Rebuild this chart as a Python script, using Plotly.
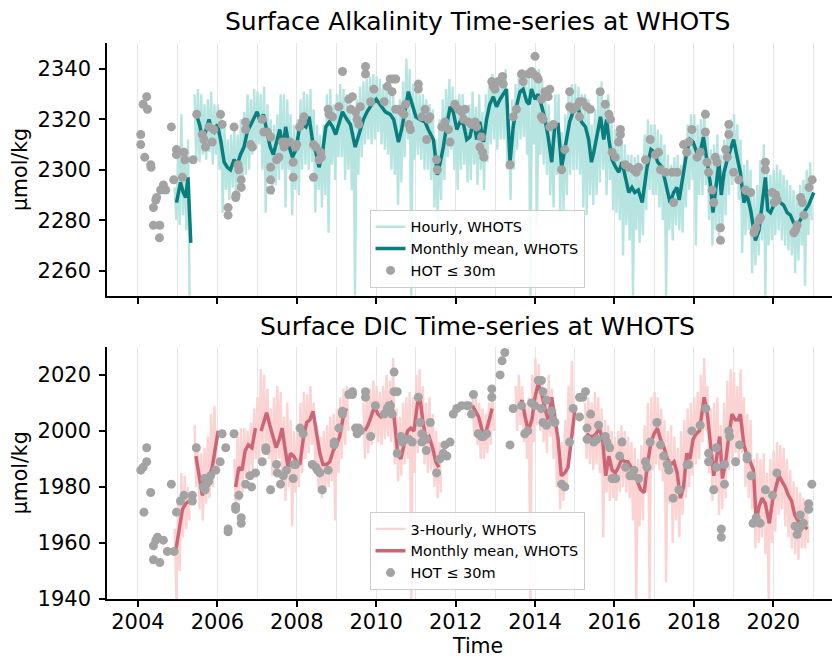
import plotly.graph_objects as go

# ---------------- Alkalinity (top panel) ----------------
# Hourly WHOTS alkalinity: monthly upper / lower extent of the hourly record,
# months from Dec 2004 to Jan 2021 (None = no data)
hourly_start = 2004 + 11 / 12
alk_hourly_hi = [
    2293,
    2306, 2322, 2306, 2312, None, 2330, 2332, 2330, 2326, 2328, 2331, 2326,
    2326, 2322, 2318, 2312, 2314, 2316, 2314, 2320, 2323, 2330, 2328, 2332,
    2331, 2330, 2333, 2326, 2320, 2318, 2322, 2330, 2330, 2328, 2322, 2318,
    2320, 2328, 2331, 2330, 2332, 2324, 2318, 2314, 2318, 2330, 2332, 2326,
    2330, 2334, 2332, 2330, 2326, 2322, 2328, 2333, 2335, 2336, 2337, 2338,
    2337, 2336, 2334, 2333, 2330, 2330, 2324, 2328, 2335, 2344, 2340, 2334,
    2332, 2330, 2330, 2328, 2326, 2324, 2312, 2320, 2328, 2332, 2336, 2333,
    2328, 2330, 2330, 2325, 2326, 2331, 2325, 2330, 2323, 2330, 2335, 2338,
    2335, 2337, 2338, 2340, 2320, 2328, 2334, 2338, 2340, 2336, 2337, 2340,
    2338, 2340, 2336, 2331, 2326, 2316, 2330, 2330, 2315, 2322, 2330, 2334,
    2334, 2333, 2330, 2330, 2328, 2318, 2324, 2332, 2335, 2326, 2330, 2318,
    2316, 2314, 2316, 2310, 2306, 2306, 2305, 2306, 2302, 2314, 2320, 2318,
    2318, 2316, 2314, 2310, 2306, 2302, 2305, 2306, 2302, 2312, 2318, 2322,
    2322, 2318, 2320, 2324, 2316, 2308, 2310, 2314, 2306, 2312, 2318, 2320,
    2322, 2318, 2312, 2302, 2304, 2300, 2290, 2294, 2304, 2310, 2300, 2298,
    2300, 2302, 2300, 2298, 2296, 2294, 2292, 2290, 2294, 2296, 2300, 2303,
    None,
]
alk_hourly_lo = [
    2280,
    2278, 2282, 2276, 2250, None, 2304, 2303, 2306, 2304, 2307, 2302, 2306,
    2300, 2283, 2292, 2288, 2293, 2290, 2292, 2295, 2298, 2300, 2306, 2308,
    2310, 2300, 2283, 2296, 2290, 2294, 2296, 2300, 2285, 2300, 2282, 2292,
    2290, 2300, 2302, 2300, 2303, 2283, 2292, 2285, 2290, 2275, 2302, 2296,
    2305, 2305, 2296, 2300, 2292, 2250, 2298, 2305, 2310, 2312, 2310, 2312,
    2315, 2310, 2308, 2306, 2300, 2298, 2286, 2295, 2305, 2312, 2250, 2304,
    2306, 2304, 2300, 2300, 2296, 2285, 2280, 2288, 2296, 2305, 2308, 2300,
    2292, 2300, 2302, 2295, 2296, 2302, 2294, 2300, 2292, 2303, 2310, 2312,
    2308, 2312, 2312, 2300, 2288, 2300, 2308, 2312, 2313, 2306, 2250, 2310,
    2278, 2306, 2302, 2298, 2290, 2285, 2298, 2283, 2284, 2290, 2298, 2300,
    2300, 2298, 2285, 2282, 2290, 2286, 2290, 2295, 2300, 2290, 2296, 2284,
    2283, 2280, 2266, 2278, 2272, 2250, 2276, 2271, 2274, 2284, 2292, 2290,
    2290, 2285, 2280, 2250, 2276, 2272, 2278, 2276, 2275, 2285, 2292, 2296,
    2270, 2290, 2290, 2294, 2280, 2270, 2276, 2272, 2276, 2282, 2290, 2294,
    2296, 2288, 2267, 2274, 2276, 2259, 2262, 2266, 2272, 2250, 2270, 2272,
    2274, 2276, 2272, 2270, 2268, 2266, 2259, 2264, 2270, 2254, 2274, 2280,
    None,
]

# Monthly mean WHOTS alkalinity (None = gap)
alk_mean_t = [
    2004.97, 2005.07, 2005.14, 2005.2, 2005.26, 2005.33, None,
    2005.47, 2005.55, 2005.62, 2005.7, 2005.79, 2005.85, 2005.92, 2006.0,
    2006.08, 2006.17, 2006.25, 2006.33, 2006.42, 2006.5, 2006.58, 2006.67,
    2006.75, 2006.84, 2006.92, 2007.0, 2007.08, 2007.16, 2007.25, 2007.33,
    2007.41, 2007.5, 2007.57, 2007.65, 2007.72, 2007.81, 2007.89, 2007.98,
    2008.06, 2008.14, 2008.23, 2008.31, 2008.4, 2008.48, 2008.56, 2008.65,
    2008.73, 2008.82, 2008.9, 2008.98, 2009.07, 2009.15, 2009.26, 2009.35,
    2009.47, 2009.55, 2009.68, 2009.77, 2009.89, 2010.0, 2010.1, 2010.23,
    2010.35, 2010.44, 2010.56, 2010.64, 2010.81, 2010.9, 2011.0, 2011.1,
    2011.23, 2011.31, 2011.44, 2011.5, 2011.54, 2011.6, 2011.69, 2011.77,
    2011.86, 2011.94, 2012.03, 2012.11, 2012.2, 2012.28, 2012.36, 2012.45,
    2012.53, 2012.61, 2012.7, 2012.78, 2012.86, 2012.95, 2013.03, 2013.12,
    2013.2, 2013.28, 2013.37, 2013.45, 2013.53, 2013.62, 2013.7, 2013.79,
    2013.85, 2013.91, 2014.0, 2014.08, 2014.17, 2014.25, 2014.33, 2014.42,
    2014.5, 2014.58, 2014.67, 2014.75, 2014.87, 2015.0, 2015.08, 2015.17,
    2015.27, 2015.35, 2015.42, 2015.48, 2015.56, 2015.65, 2015.73, 2015.8,
    2015.86, 2015.94, 2016.03, 2016.11, 2016.19, 2016.28, 2016.36, 2016.44,
    2016.51, 2016.6, 2016.7, 2016.82, 2016.92, 2017.0, 2017.09, 2017.2,
    2017.32, 2017.4, 2017.49, 2017.57, 2017.63, 2017.74, 2017.82, 2017.9,
    2017.98, 2018.07, 2018.16, 2018.24, 2018.32, 2018.41, 2018.48, 2018.54,
    2018.63, 2018.69, 2018.76, 2018.84, 2018.92, 2019.0, 2019.09, 2019.17,
    2019.26, 2019.34, 2019.43, 2019.49, 2019.55, 2019.64, 2019.72, 2019.8,
    2019.86, 2019.93, 2020.01, 2020.1, 2020.18, 2020.26, 2020.35, 2020.43,
    2020.51, 2020.6, 2020.68, 2020.77, 2020.89, 2021.02,
]
alk_mean_v = [
    2287, 2295, 2291, 2289, 2297, 2271, None,
    2322, 2318, 2313, 2315, 2320, 2316, 2315, 2318,
    2312, 2303, 2301, 2300, 2304, 2302, 2306, 2309,
    2315, 2318, 2321, 2323, 2319, 2322, 2315, 2309,
    2306, 2312, 2316, 2309, 2317, 2309, 2305, 2308,
    2316, 2318, 2317, 2321, 2311, 2307, 2301, 2307,
    2317, 2319, 2317, 2314, 2319, 2323, 2320, 2318,
    2309, 2313, 2320, 2323, 2326, 2328, 2326, 2323,
    2322, 2320, 2311, 2316, 2331, 2326, 2321, 2320,
    2319, 2316, 2312, 2304, 2298, 2302, 2309, 2317,
    2325, 2323, 2316, 2319, 2318, 2312, 2313, 2320,
    2312, 2319, 2311, 2320, 2326, 2329, 2325, 2328,
    2330, 2332, 2303, 2317, 2325, 2331, 2332, 2327,
    2326, 2332, 2328, 2330, 2325, 2320, 2313, 2303,
    2318, 2318, 2301, 2309, 2319, 2325, 2325, 2319,
    2317, 2312, 2303, 2307, 2313, 2321, 2312, 2320,
    2312, 2304, 2301, 2299, 2303, 2296, 2291, 2293,
    2291, 2292, 2287, 2301, 2308, 2307, 2303, 2301,
    2293, 2287, 2291, 2293, 2288, 2299, 2307, 2312,
    2311, 2307, 2307, 2313, 2304, 2295, 2283, 2292,
    2303, 2290, 2299, 2304, 2308, 2312, 2305, 2299,
    2287, 2290, 2284, 2278, 2272, 2276, 2286, 2297,
    2284, 2283, 2286, 2288, 2287, 2286, 2283, 2282,
    2279, 2278, 2280, 2283, 2286, 2291,
]

# HOT bottle alkalinity, depth <= 30 m
alk_hot_t = [
    2004.07, 2004.07, 2004.13, 2004.22, 2004.24, 2004.17, 2004.32, 2004.33, 2004.39, 2004.45,
    2004.47, 2004.39, 2004.55, 2004.54, 2004.57, 2004.64, 2004.7, 2004.84, 2004.9, 2004.97,
    2004.97, 2005.12, 2005.16, 2005.18, 2005.39, 2005.48, 2005.62, 2005.66, 2005.7, 2005.79,
    2005.87, 2005.91, 2006.08, 2006.12, 2006.27, 2006.27, 2006.42, 2006.46, 2006.47, 2006.52,
    2006.54, 2006.6, 2006.6, 2006.71, 2006.71, 2006.84, 2006.88, 2007.13, 2007.17, 2007.26,
    2007.34, 2007.34, 2007.34, 2007.34, 2007.49, 2007.55, 2007.64, 2007.68, 2007.72, 2007.83,
    2007.91, 2007.91, 2007.97, 2008.0, 2008.07, 2008.14, 2008.18, 2008.42, 2008.48, 2008.42,
    2008.56, 2008.6, 2008.62, 2008.79, 2008.81, 2008.9, 2009.06, 2009.15, 2009.31, 2009.4,
    2009.36, 2009.48, 2009.52, 2009.56, 2009.6, 2009.73, 2009.73, 2009.86, 2009.94, 2010.2,
    2010.28, 2010.35, 2010.42, 2010.49, 2010.4, 2010.49, 2010.58, 2010.64, 2010.7, 2010.74,
    2010.86, 2010.82,
    2011.06, 2011.06, 2011.15, 2011.23, 2011.31, 2011.35, 2011.27, 2011.52, 2011.54, 2011.65,
    2011.73, 2011.82, 2011.86, 2011.98, 2012.07, 2012.15, 2012.24, 2012.2, 2012.32, 2012.4,
    2012.49, 2012.53, 2012.61, 2012.68, 2012.71, 2012.65, 2012.91, 2012.99, 2012.95, 2013.07,
    2013.18, 2013.2, 2013.37, 2013.45, 2013.53, 2013.66, 2013.7, 2013.83, 2013.91, 2013.96,
    2014.0, 2014.04, 2014.08, 2014.16, 2014.25, 2014.37, 2014.33, 2014.16, 2014.2, 2014.46,
    2014.37, 2014.87, 2014.87, 2014.95, 2015.04, 2015.12, 2014.75, 2014.67, 2015.12, 2015.2,
    2015.3, 2015.39, 2015.64, 2015.77, 2015.86, 2015.9, 2016.15, 2016.15, 2016.1, 2015.94,
    2016.02, 2016.27, 2016.36, 2016.48, 2016.61, 2016.55, 2016.78, 2016.9, 2017.03, 2017.11,
    2017.16, 2017.28, 2017.45, 2017.58, 2017.49, 2017.74, 2017.87, 2017.95, 2017.82, 2018.08,
    2018.16, 2018.29, 2018.29, 2018.33, 2018.37, 2018.46, 2018.5, 2018.54, 2018.58, 2018.67,
    2018.67, 2018.8, 2018.88, 2018.88, 2018.84, 2019.0, 2019.13, 2019.3, 2019.43, 2019.51,
    2019.56, 2019.64, 2019.68, 2019.53, 2019.8, 2019.8, 2019.97, 2020.02, 2020.1, 2020.06,
    2020.52, 2020.6, 2020.56, 2020.69, 2020.73, 2020.77, 2020.9, 2020.98,
]
alk_hot_v = [
    2314, 2310, 2326, 2329, 2324, 2305, 2302, 2301, 2285, 2288,
    2289, 2278, 2278, 2273, 2292, 2294, 2292, 2317, 2296, 2308,
    2306, 2297, 2307, 2304, 2304, 2322, 2314, 2312, 2309, 2317,
    2311, 2316, 2322, 2318, 2285, 2282, 2317, 2289, 2290, 2302,
    2300, 2296, 2293, 2319, 2316, 2310, 2309, 2320, 2315, 2315,
    2313, 2301, 2296, 2292, 2304, 2305, 2311, 2309, 2311, 2311,
    2303, 2297, 2309, 2310, 2317, 2319, 2321, 2310, 2309, 2297,
    2304, 2307, 2305, 2324, 2322, 2321, 2325, 2339, 2328, 2329,
    2324, 2323, 2320, 2318, 2325, 2341, 2338, 2327, 2332, 2327,
    2333, 2336, 2336, 2336, 2331, 2324, 2324, 2323, 2322, 2326,
    2316, 2318,
    2334, 2332, 2321, 2324, 2320, 2321, 2312, 2304, 2300, 2317,
    2319, 2316, 2311, 2326, 2324, 2323, 2324, 2320, 2319, 2318,
    2319, 2317, 2309, 2307, 2305, 2313, 2335, 2332, 2333, 2335,
    2337, 2334, 2302, 2321, 2324, 2338, 2335, 2338, 2339, 2338,
    2345, 2337, 2336, 2328, 2331, 2332, 2329, 2321, 2320, 2318,
    2317, 2331, 2325, 2324, 2325, 2321, 2308, 2300, 2327, 2327,
    2325, 2324, 2331, 2326, 2322, 2320, 2316, 2314, 2311, 2307,
    2305, 2302, 2301, 2300, 2301, 2299, 2304, 2312, 2306, 2307,
    2300, 2299, 2299, 2299, 2287, 2310, 2311, 2316, 2307, 2305,
    2307, 2322, 2315, 2303, 2299, 2292, 2287, 2305, 2303, 2277,
    2272, 2308, 2318, 2314, 2305, 2299, 2296, 2292, 2291, 2275,
    2277, 2280, 2281, 2276, 2303, 2300, 2291, 2287, 2288, 2290,
    2275, 2278, 2276, 2289, 2287, 2282, 2293, 2296,
]

# ---------------- DIC (bottom panel) ----------------
dic_hourly_hi = [
    1965,
    1975, 1985, 1984, 1980, None, 2002, 1995, 1992, 1994, 1998, 2006, 2009,
    None, None, None, None, None, 1990, 1998, 2001, 2001, 2000, 2003, 2008,
    2012, 2022, 2020, 2015, 2008, 2012, 2016, 2014, 2005, 2010, 2004, 2000,
    2000, 2010, 2014, 2013, 2016, 2010, 2002, 1998, 2000, 2002, 2005, 2006,
    2008, 2012, 2015, 2016, None, None, None, None, 2010, 2012, 2015, 2018,
    2016, 2014, 2016, 2020, 2018, 2026, 2008, 2005, 2010, 2012, 2014, 2012,
    2020, 2022, 2016, 2010, 2012, 2006, 2000, 1996, None, None, None, None,
    None, None, None, None, None, 2013, 2012, 2010, 2008, 2006, 2010, 2014,
    None, None, None, None, None, None, 2016, 2020, 2016, 2010, 2012, 2020,
    2026, 2024, 2018, 2014, 2020, 2015, 2008, 1998, 1996, 2004, 2016, 2025,
    None, None, None, 2010, 2012, 2010, 2014, 2012, 2008, 2004, 2002, 2000,
    1998, 2000, 2002, 2000, 1998, 1996, 1994, 1990, 1995, 2002, 2010, 2012,
    2014, 2012, 2008, 2004, 2000, 2002, 1998, 1994, 2000, 2004, 2008, 2010,
    2012, 2014, 2020, 2026, 2016, 2008, 2010, 2012, 2002, 2010, 2018, 2022,
    2021, 2016, 2022, 2012, 2006, 2004, 1990, 1992, 1990, 1992, 1985, 1990,
    1993, 1996, 1995, 1994, 1990, 1986, 1982, 1980, 1978, 1976, 1974, None,
    None,
]
dic_hourly_lo = [
    1940,
    1950, 1962, 1965, 1968, None, 1980, 1972, 1968, 1974, 1976, 1980, 1985,
    None, None, None, None, None, 1972, 1975, 1978, 1983, 1985, 1986, 1990,
    1990, 1993, 1995, 1990, 1984, 1988, 1990, 1982, 1975, 1980, 1966, 1978,
    1980, 1985, 1990, 1992, 1995, 1986, 1978, 1976, 1978, 1980, 1982, 1968,
    1985, 1990, 1995, 2000, None, None, None, None, 1990, 1992, 1995, 1998,
    1996, 1995, 1997, 1998, 1996, 1988, 1982, 1984, 1988, 1990, 1940, 1985,
    1992, 1995, 1988, 1985, 1986, 1980, 1976, 1978, None, None, None, None,
    None, None, None, None, None, 1998, 1995, 1990, 1990, 1992, 1995, 2000,
    None, None, None, None, None, None, 2000, 2002, 1996, 1990, 1940, 1996,
    2002, 2000, 1996, 1992, 1998, 1990, 1980, 1972, 1975, 1980, 1990, 1998,
    None, None, None, 1990, 1988, 1986, 1988, 1985, 1962, 1978, 1975, 1976,
    1975, 1978, 1980, 1978, 1976, 1968, 1940, 1966, 1968, 1978, 1940, 1986,
    1988, 1986, 1982, 1946, 1974, 1960, 1968, 1962, 1970, 1976, 1980, 1984,
    1988, 1990, 1996, 2000, 1985, 1975, 1980, 1970, 1972, 1976, 1986, 1990,
    1992, 1990, 1992, 1980, 1976, 1972, 1958, 1960, 1962, 1956, 1940, 1960,
    1964, 1970, 1972, 1966, 1962, 1958, 1956, 1954, 1958, 1958, 1960, None,
    None,
]

dic_mean_t = [
    2004.96, 2005.04, 2005.12, 2005.2, 2005.28, None,
    2005.46, 2005.54, 2005.62, 2005.7, 2005.79, 2005.87, 2005.95, 2006.02, None,
    2006.46, 2006.54, 2006.62, 2006.7, 2006.78, 2006.87, 2006.96, None,
    2007.1, 2007.18, 2007.24, 2007.32, 2007.4, 2007.48, 2007.56, 2007.63, 2007.7,
    2007.78, 2007.84, 2007.92, 2008.0, 2008.08, 2008.17, 2008.25, 2008.33, 2008.41,
    2008.5, 2008.58, 2008.66, 2008.75, 2008.83, 2008.92, 2009.0, 2009.08, 2009.17,
    2009.25, None,
    2009.71, 2009.79, 2009.87, 2009.96, 2010.04, 2010.12, 2010.2, 2010.29, 2010.37,
    2010.45, 2010.54, 2010.62, 2010.7, 2010.79, 2010.87, 2010.95, 2011.04, 2011.1,
    2011.17, 2011.25, 2011.33, 2011.42, 2011.5, 2011.58, None,
    2012.42, 2012.5, 2012.58, 2012.67, 2012.75, 2012.83, 2012.92, None,
    2013.6, 2013.67, 2013.75, 2013.83, 2013.92, 2014.0, 2014.08, 2014.17, 2014.25,
    2014.33, 2014.42, 2014.5, 2014.58, 2014.66, 2014.75, 2014.83, 2014.92, 2015.0, None,
    2015.3, 2015.38, 2015.46, 2015.54, 2015.62, 2015.7, 2015.78, 2015.86, 2015.94,
    2016.02, 2016.1, 2016.18, 2016.26, 2016.34, 2016.42, 2016.5, 2016.58, 2016.66,
    2016.75, 2016.83, 2016.92, 2017.0, 2017.08, 2017.16, 2017.25, 2017.33, 2017.42,
    2017.5, 2017.58, 2017.66, 2017.74, 2017.82, 2017.9, 2017.98, 2018.06, 2018.14,
    2018.22, 2018.26, 2018.34, 2018.42, 2018.5, 2018.58, 2018.65, 2018.72, 2018.8,
    2018.88, 2018.96, 2019.04, 2019.12, 2019.17, 2019.26, 2019.34, 2019.42, 2019.5,
    2019.57, 2019.64, 2019.72, 2019.8, 2019.9, 2019.98, 2020.06, 2020.14, 2020.22,
    2020.3, 2020.38, 2020.46, 2020.54, 2020.62, 2020.7, 2020.78, 2020.86,
]
dic_mean_v = [
    1958, 1966, 1972, 1974, 1975, None,
    1991, 1983, 1977, 1980, 1983, 1987, 1994, 2000, None,
    1980, 1987, 1986, 1993, 1995, 1994, 2001, None,
    2000, 2004, 2006.5, 2002, 1998, 1994, 1997, 2001, 1994,
    1987, 1992, 1991, 1989, 1988, 1998, 2003, 2004, 2007,
    1999, 1992, 1988, 1988, 1989, 1993, 1995, 1998, 2005,
    2008, None,
    2000, 2002, 2005, 2009, 2006, 2005, 2006, 2009, 2010,
    2005, 1992, 1990, 1995, 2000, 2001, 2000, 2010, 2012,
    2004, 1997, 1998, 1994, 1989, 1987, None,
    2009, 2007, 2005, 2000, 1999, 2003, 2008, None,
    2008, 2011, 2005, 2000, 2004, 2012, 2017, 2013, 2008,
    2004, 2012, 2005, 1997, 1984, 1985, 1987, 1997, 2007, None,
    1999, 1998, 1998, 1999, 2001, 1997, 1984, 1991, 1986,
    1985, 1987, 1990, 1989, 1989, 1987, 1985, 1982, 1979,
    1978, 1988, 1996, 1999, 2001, 1997, 1994, 1990, 1988,
    1989, 1985, 1976, 1980, 1992, 1990, 1997, 1999, 2000,
    2008, 2012, 2006, 1995, 1984, 1991, 1998, 1983, 1989,
    1998, 2006, 2004, 2004, 2006, 1995, 1991, 1989, 1986,
    1968, 1973, 1976, 1974, 1967, 1975, 1980, 1984, 1982,
    1980, 1977, 1975, 1970, 1968, 1967, 1966, 1965,
]

dic_hot_t = [
    2004.07, 2004.13, 2004.22, 2004.22, 2004.15, 2004.32, 2004.39, 2004.45, 2004.49, 2004.39,
    2004.55, 2004.64, 2004.74, 2004.91, 2004.84, 2004.97, 2005.07, 2005.16, 2005.37, 2005.37,
    2005.47, 2005.64, 2005.68, 2005.72, 2005.78, 2005.83, 2005.69, 2005.96, 2006.07, 2006.12,
    2006.21, 2006.27, 2006.27, 2006.42, 2006.46, 2006.46, 2006.54, 2006.6, 2006.6, 2006.71,
    2006.82, 2006.86, 2006.96, 2007.13, 2007.22, 2007.22, 2007.34, 2007.49, 2007.51, 2007.59,
    2007.66, 2007.74, 2007.91, 2007.93, 2007.97, 2008.08, 2008.16, 2008.39, 2008.48, 2008.52,
    2008.58, 2008.64, 2008.79, 2008.94, 2008.94, 2009.06, 2009.15, 2009.15, 2009.31, 2009.4,
    2009.4, 2009.48, 2009.52, 2009.6, 2009.56, 2009.73, 2009.73, 2009.86, 2009.98, 2010.2,
    2010.28, 2010.36, 2010.4, 2010.32, 2010.45, 2010.45, 2010.53, 2010.53, 2010.62, 2010.66,
    2010.74, 2010.91, 2010.82,
    2011.06, 2011.1, 2011.15, 2011.26, 2011.36, 2011.15, 2011.26, 2011.52, 2011.6, 2011.69,
    2011.73, 2011.86, 2011.78, 2011.94, 2012.03, 2012.15, 2012.28, 2012.32, 2012.45, 2012.4,
    2012.57, 2012.65, 2012.7, 2012.78, 2012.91, 2012.91, 2013.12, 2013.17, 2013.24, 2013.37,
    2013.45, 2013.66, 2013.74, 2013.82, 2013.91, 2013.99, 2014.08, 2014.16, 2014.2, 2014.16,
    2014.29, 2014.41, 2014.45, 2014.5, 2014.2, 2014.29, 2014.67, 2014.75, 2014.87, 2014.96,
    2015.12, 2015.2, 2015.12,
    2015.27, 2015.31, 2015.4, 2015.31, 2015.48, 2015.56, 2015.6, 2015.77, 2015.81, 2015.88,
    2015.94, 2016.03, 2016.13, 2016.19, 2016.28, 2016.39, 2016.49, 2016.45, 2016.61, 2016.78,
    2016.82, 2016.9, 2017.07, 2017.16, 2017.24, 2017.33, 2017.37, 2017.48, 2017.62, 2017.83,
    2017.87, 2017.95, 2018.16, 2018.3, 2018.37, 2018.37, 2018.5, 2018.57, 2018.57, 2018.69,
    2018.69, 2018.77, 2018.77, 2018.88, 2018.9, 2019.05, 2019.15, 2019.34, 2019.34, 2019.44,
    2019.49, 2019.57, 2019.67, 2019.8, 2019.98, 2020.09, 2020.55, 2020.6, 2020.64, 2020.7,
    2020.68, 2020.76, 2020.89, 2020.89, 2020.97,
]
dic_hot_v = [
    1986, 1987, 1994, 1989, 1971, 1978, 1959, 1961, 1962, 1954,
    1953, 1961, 1957, 1957, 1981, 1971, 1975, 1977, 1975, 1977,
    1994, 1980, 1983, 1981, 1982, 1984, 1979, 1986, 1989, 1999,
    1994, 1965, 1964, 1999, 1973, 1972, 1977, 1969, 1967, 1981,
    1984, 1980, 1985, 1989, 1994, 1993, 1979, 1988, 1985, 1981,
    1984, 1986, 1983, 1988, 1988, 2001, 1999, 1988, 1987, 1986,
    1985, 1979, 1986, 1995, 1996, 2001, 2006, 2007, 2013, 2014,
    2013, 2001, 1999, 2000, 2001, 2014, 2012, 1998, 2009, 2006,
    2008, 2009, 2006, 2009, 2021, 2014, 2014, 1992, 1998, 1996,
    1997, 1996, 1997,
    2012, 2003, 1999, 1997, 2003, 1996, 1993, 1985, 1990, 1992,
    1995, 1996, 1991, 2006, 2008, 2009, 2009, 2009, 2013, 2006,
    1999, 1998, 1998, 1999, 2012, 2015, 2020, 2025, 2028, 1995,
    2008, 2009, 1999, 2000, 2010, 2009, 2018, 2018, 2014, 2008,
    2011, 2007, 2004, 2003, 2003, 2002, 1981, 1980, 1996, 2008,
    2012, 2012, 2005,
    2014, 2001, 2006, 1997, 1996, 1997, 2002, 1998, 1996, 1994,
    1983, 1983, 1991, 1996, 1987, 1984, 1986, 1984, 1983, 1989,
    1987, 1996, 2003, 1995, 1991, 1988, 1986, 1976, 1979, 1988,
    1988, 2000, 2002, 2008, 1992, 1989, 1979, 1994, 1987, 1965,
    1962, 1988, 1981, 2000, 1998, 1989, 1995, 1991, 1990, 1984,
    1967, 1969, 1967, 1979, 1977, 1985, 1966, 1963, 1965, 1966,
    1970, 1967, 1974, 1972, 1981,
]

# ---------------- axes text ----------------
title_top = "Surface Alkalinity Time-series at WHOTS"
title_bottom = "Surface DIC Time-series at WHOTS"
y_label = "µmol/kg"
x_label = "Time"
year_ticks = [2004, 2006, 2008, 2010, 2012, 2014, 2016, 2018, 2020]


def hourly_path(hi, lo):
    xs, ys = [], []
    for i, (h, l) in enumerate(zip(hi, lo)):
        t = hourly_start + i / 12
        if h is None or l is None:
            xs.append(t)
            ys.append(None)
            continue
        xs += [t + 0.01, t + 0.05]
        ys += [h, l]
    return xs, ys


FONT = "DejaVu Sans"
TEAL_LIGHT = "#b6e5e1"
TEAL = "#0a7e7e"
PINK_LIGHT = "#fcd3d3"
PINK = "#cc6677"
GRAY = "#a3a3a3"

fig = go.Figure()

ax, ay = hourly_path(alk_hourly_hi, alk_hourly_lo)
fig.add_trace(go.Scatter(x=ax, y=ay, mode="lines", name="Hourly, WHOTS",
                         line=dict(color=TEAL_LIGHT, width=2.4),
                         xaxis="x2", yaxis="y2", legend="legend", connectgaps=False))
fig.add_trace(go.Scatter(x=alk_mean_t, y=alk_mean_v, mode="lines", name="Monthly mean, WHOTS",
                         line=dict(color=TEAL, width=3.5),
                         xaxis="x2", yaxis="y2", legend="legend", connectgaps=False))
fig.add_trace(go.Scatter(x=alk_hot_t, y=alk_hot_v, mode="markers", name="HOT ≤ 30m",
                         marker=dict(color=GRAY, size=9),
                         xaxis="x2", yaxis="y2", legend="legend"))

dx, dy = hourly_path(dic_hourly_hi, dic_hourly_lo)
fig.add_trace(go.Scatter(x=dx, y=dy, mode="lines", name="3-Hourly, WHOTS",
                         line=dict(color=PINK_LIGHT, width=2.4),
                         xaxis="x", yaxis="y", legend="legend2", connectgaps=False))
fig.add_trace(go.Scatter(x=dic_mean_t, y=dic_mean_v, mode="lines", name="Monthly mean, WHOTS",
                         line=dict(color=PINK, width=3.5),
                         xaxis="x", yaxis="y", legend="legend2", connectgaps=False))
fig.add_trace(go.Scatter(x=dic_hot_t, y=dic_hot_v, mode="markers", name="HOT ≤ 30m",
                         marker=dict(color=GRAY, size=9),
                         xaxis="x", yaxis="y", legend="legend2"))

xrange = [2003.22, 2021.68]
common_x = dict(
    range=xrange, tickmode="array", tickvals=year_ticks,
    showline=True, linecolor="black", linewidth=1.5,
    ticks="outside", ticklen=6, tickwidth=1.5, tickcolor="black",
    showgrid=True, gridcolor="#e6e6e6", gridwidth=1, zeroline=False,
    minor=dict(dtick=1, tick0=2004, showgrid=True, gridcolor="#e6e6e6", gridwidth=1, ticks=""),
    tickfont=dict(size=21, family=FONT, color="black"),
    ticklabelstandoff=-3,
)
common_y = dict(
    showline=True, linecolor="black", linewidth=1.5,
    ticks="outside", ticklen=6, tickwidth=1.5, tickcolor="black",
    showgrid=False, zeroline=False, dtick=20,
    tickfont=dict(size=21, family=FONT, color="black"),
    ticklabelstandoff=4,
    title=dict(text=y_label, font=dict(size=20.5, family=FONT, color="black"), standoff=4),
)

legend_common = dict(
    xanchor="center", yanchor="bottom", x=0.5048,
    font=dict(size=14.5, family=FONT, color="black"),
    bgcolor="rgba(255,255,255,0.85)", bordercolor="#cccccc", borderwidth=1,
    tracegroupgap=0,
)

# The page body adds an 8 px offset, so the figure is sized to fill the
# remaining 832 x 651 window area.
fig.update_layout(
    width=832, height=651,
    margin=dict(l=99, r=0, t=35, b=60),
    paper_bgcolor="white", plot_bgcolor="white",
    font=dict(family=FONT, color="black"),
    xaxis=dict(common_x, anchor="y", domain=[0, 1]),
    xaxis2=dict(common_x, anchor="y2", domain=[0, 1], matches="x", showticklabels=False),
    yaxis=dict(common_y, domain=[0, 0.454], range=[1940, 2030.1]),
    yaxis2=dict(common_y, domain=[0.5453, 1], range=[2250, 2350.3]),
    legend=dict(legend_common, y=0.5597),
    legend2=dict(legend_common, y=0.0162),
    showlegend=True,
    annotations=[
        dict(text=title_top, x=0.5048, y=1.0383, xref="paper", yref="paper",
             xanchor="center", yanchor="middle", showarrow=False,
             font=dict(size=25, family=FONT, color="black")),
        dict(text=title_bottom, x=0.5048, y=0.4895, xref="paper", yref="paper",
             xanchor="center", yanchor="middle", showarrow=False,
             font=dict(size=25, family=FONT, color="black")),
        dict(text=x_label, x=0.5048, y=-0.0845, xref="paper", yref="paper",
             xanchor="center", yanchor="middle", showarrow=False,
             font=dict(size=20.5, family=FONT, color="black")),
    ],
)

fig.write_html("out.html")
